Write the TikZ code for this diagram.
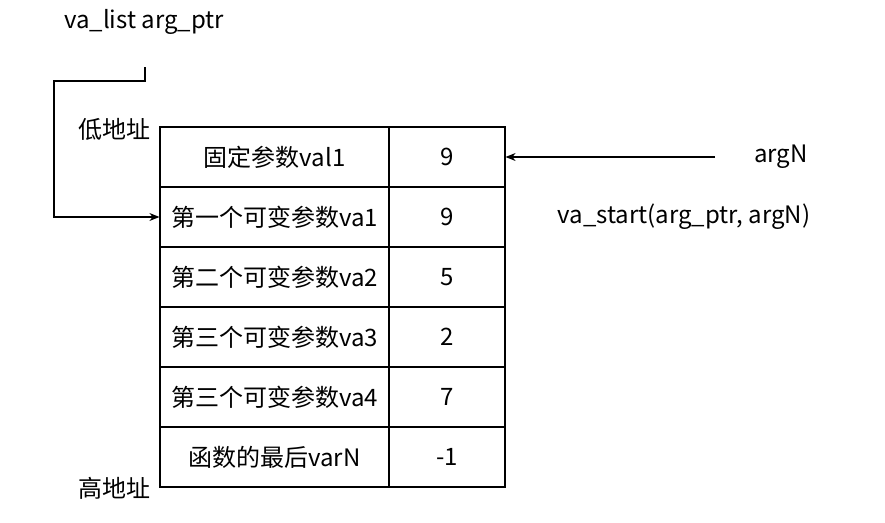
\documentclass[tikz,border=0pt]{standalone}
\usepackage{fontspec}
\setmainfont{Noto Sans CJK SC}
\usetikzlibrary{arrows.meta}

\begin{document}
\begin{tikzpicture}[x=1pt,y=-1pt,
    cell/.style={draw, line width=1.2pt, minimum height=60pt, inner sep=0pt, font=\fontsize{24}{24}\selectfont},
    namecell/.style={cell, minimum width=229pt},
    valcell/.style={cell, minimum width=116pt},
    label/.style={font=\fontsize{24}{24}\selectfont},
    link/.style={line width=1.2pt, -{Stealth[length=10pt,width=8pt]}}]
        \useasboundingbox (0,0) rectangle (885,522);

        \node[namecell] (n1) at (274.5,157) {固定参数val1};
        \node[namecell] (n2) at (274.5,217) {第一个可变参数va1};
        \node[namecell] (n3) at (274.5,277) {第二个可变参数va2};
        \node[namecell] (n4) at (274.5,337) {第三个可变参数va3};
        \node[namecell] (n5) at (274.5,397) {第三个可变参数va4};
        \node[namecell] (n6) at (274.5,457) {函数的最后varN};

        \node[valcell] (v1) at (447,157) {9};
        \node[valcell] (v2) at (447,217) {9};
        \node[valcell] (v3) at (447,277) {5};
        \node[valcell] (v4) at (447,337) {2};
        \node[valcell] (v5) at (447,397) {7};
        \node[valcell] (v6) at (447,457) {-1};

        \node[label] (ptr) at (144,22) {va\_list arg\_ptr};
        \node[label] (low) at (114,129) {低地址};
        \node[label] (high) at (114,488) {高地址};
        \node[label] (argn) at (781,157) {argN};
        \node[label] (start) at (684,217) {va\_start(arg\_ptr, argN)};

        \coordinate (ptrend) at (145,67);
        \coordinate (argtail) at (715,157);

        \draw[link] (ptrend) -- (145,81) -- (54,81) -- (54,217) -- (n2.west);
        \draw[link] (argtail) -- (v1.east);

    \end{tikzpicture}
\end{document}
